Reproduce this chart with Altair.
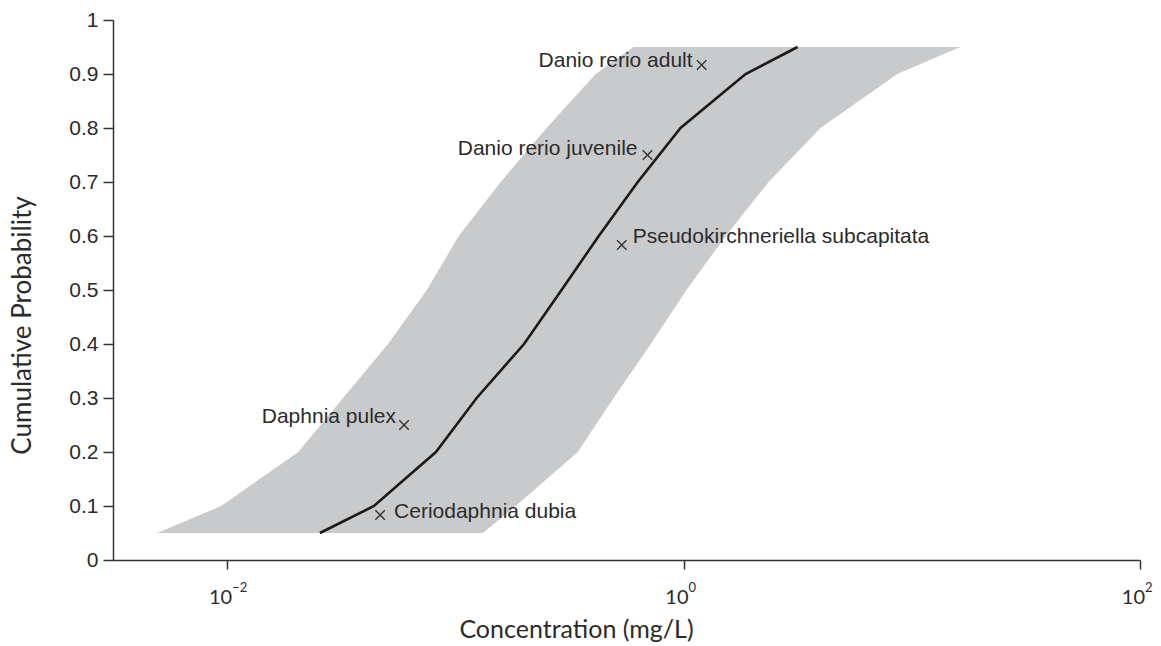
import altair as alt
import pandas as pd

# Cumulative probability levels of the fitted species sensitivity distribution
prob = [0.05, 0.1, 0.2, 0.3, 0.4, 0.5, 0.6, 0.7, 0.8, 0.9, 0.95]
# Median fit and the limits of its confidence band, concentration in mg/L
median_conc = [0.0255, 0.0440, 0.0822, 0.124, 0.200, 0.292, 0.425, 0.630, 0.970, 1.87, 3.16]
lower_conc = [0.00494, 0.00942, 0.0205, 0.0322, 0.0507, 0.0750, 0.1035, 0.158, 0.251, 0.412, 0.604]
upper_conc = [0.132, 0.184, 0.344, 0.494, 0.718, 1.03, 1.53, 2.36, 3.98, 8.65, 16.3]

# Observed toxicity values per species
species = [
    "Ceriodaphnia dubia",
    "Daphnia pulex",
    "Pseudokirchneriella subcapitata",
    "Danio rerio juvenile",
    "Danio rerio adult",
]
species_conc = [0.0468, 0.0596, 0.536, 0.695, 1.20]
species_prob = [0.0833, 0.25, 0.5833, 0.75, 0.9167]

# Axis ticks: x ticks are powers of ten, labelled as base + superscript exponent
x_ticks = [0.01, 1, 100]
x_tick_base = ["10", "10", "10"]
x_tick_exponent = ["−2", "0", "2"]
y_ticks = [0, 0.1, 0.2, 0.3, 0.4, 0.5, 0.6, 0.7, 0.8, 0.9, 1]

fit = pd.DataFrame({"prob": prob, "median": median_conc,
                    "lower": lower_conc, "upper": upper_conc})
obs = pd.DataFrame({"species": species, "conc": species_conc, "prob": species_prob})
ticks = pd.DataFrame({"tick": x_ticks, "base": x_tick_base,
                      "exponent": x_tick_exponent, "y0": [0] * len(x_ticks)})

# label placement for each species name: (align, dx, dy)
label_style = {
    "Ceriodaphnia dubia": ("left", 14, 3),
    "Daphnia pulex": ("right", -8, -2),
    "Pseudokirchneriella subcapitata": ("left", 11, -2),
    "Danio rerio juvenile": ("right", -10, 0),
    "Danio rerio adult": ("right", -9, 2),
}

AXIS_COLOR = "#333333"
TEXT_COLOR = "#2b2b2b"

x_scale = alt.Scale(type="log", domain=[10 ** -2.5, 100], nice=False)
y_scale = alt.Scale(domain=[0, 1], nice=False, zero=False)

x_axis = alt.Axis(
    values=x_ticks, labels=False, grid=False,
    domainColor=AXIS_COLOR, domainWidth=1.5, tickColor=AXIS_COLOR, tickWidth=1.5,
    tickSize=9,
    title="Concentration (mg/L)", titleFont="Lato", titleFontSize=25,
    titleFontWeight="normal", titleColor=TEXT_COLOR,
    titleX=463, titleY=77, titleAlign="center", titleBaseline="alphabetic",
)
y_axis = alt.Axis(
    values=y_ticks, labelExpr="format(datum.value, '.1~f')", grid=False,
    domainColor=AXIS_COLOR, domainWidth=1.5, tickColor=AXIS_COLOR, tickWidth=1.5,
    tickSize=10, labelFont="Liberation Sans", labelFontSize=21, labelColor=TEXT_COLOR,
    labelPadding=5, labelFlush=False,
    title="Cumulative Probability", titleFont="Lato", titleFontSize=26,
    titleFontWeight="normal", titleColor=TEXT_COLOR,
    titleX=-83, titleY=305, titleAlign="center", titleBaseline="alphabetic", titleAngle=-90,
)

X = lambda field: alt.X(field, type="quantitative", scale=x_scale, axis=x_axis)
Y = lambda field: alt.Y(field, type="quantitative", scale=y_scale, axis=y_axis)

# confidence band spans lower..upper at each probability level
band = alt.Chart(fit).mark_area(orient="horizontal", color="#c9cacc", opacity=1).encode(
    y=Y("prob"),
    x=X("lower"),
    x2="upper",
)

line = alt.Chart(fit).mark_line(color="#1a1a1a", strokeWidth=2.6).encode(
    y=Y("prob"),
    x=X("median"),
    order=alt.Order("prob:Q"),
)

points = alt.Chart(obs).mark_point(
    shape="M-1,-1L1,1M-1,1L1,-1", size=90, strokeWidth=1.4,
    color="#333333", filled=False, opacity=1,
).encode(
    x=X("conc"),
    y=Y("prob"),
)

labels = []
for name, (align, dx, dy) in label_style.items():
    labels.append(
        alt.Chart(obs).transform_filter(alt.datum.species == name).mark_text(
            align=align, baseline="alphabetic", dx=dx, dy=dy,
            font="Liberation Sans", fontSize=21, color=TEXT_COLOR,
        ).encode(
            x=X("conc"),
            y=Y("prob"),
            text="species:N",
        )
    )

# x tick labels: "10" with a raised exponent
tick_base = alt.Chart(ticks).mark_text(
    align="right", baseline="alphabetic", dx=5, dy=44,
    font="Lato", fontSize=20, color=TEXT_COLOR,
).encode(x=X("tick"), y=Y("y0"), text="base:N")

tick_exp = alt.Chart(ticks).mark_text(
    align="left", baseline="alphabetic", dx=5, dy=32,
    font="Lato", fontSize=13, color=TEXT_COLOR,
).encode(x=X("tick"), y=Y("y0"), text="exponent:N")

chart = alt.layer(band, line, points, *labels, tick_base, tick_exp).properties(
    width=1027, height=540,
    autosize=alt.AutoSizeParams(type="none"),
    padding={"left": 113, "top": 20, "right": 21, "bottom": 86},
    background="white",
).configure_view(stroke=None)

chart.save("out.html", embed_options={"renderer": "svg", "actions": False})
